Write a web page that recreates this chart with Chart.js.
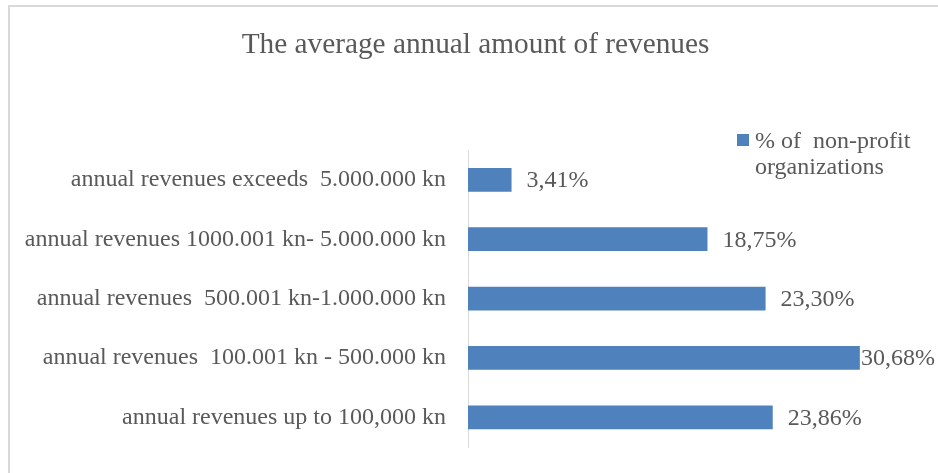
<!DOCTYPE html>
<html>
<head>
<meta charset="utf-8">
<script src="https://cdn.jsdelivr.net/npm/chart.js@4/dist/chart.umd.min.js"></script>
<style>
  html, body { margin: 0; padding: 0; background: #fff; }
  #wrap { position: relative; width: 938px; height: 473px; overflow: hidden; }
  #frame {
    position: absolute; left: 8px; top: 5px; right: 0; bottom: 0;
    border-top: 2px solid #d9d9d9; border-left: 2px solid #d9d9d9;
  }
  #revenueChart { position: absolute; left: 0; top: 0; }
</style>
</head>
<body>
<div id="wrap">
  <div id="frame"></div>
  <canvas id="revenueChart" width="938" height="473"></canvas>
</div>
<script>
// categories, top to bottom as shown
const categories = [
    'annual revenues exceeds  5.000.000 kn',
    'annual revenues 1000.001 kn- 5.000.000 kn',
    'annual revenues  500.001 kn-1.000.000 kn',
    'annual revenues  100.001 kn - 500.000 kn',
    'annual revenues up to 100,000 kn'
];
const shareValues = [3.41, 18.75, 23.30, 30.68, 23.86];
const seriesName = '% of  non-profit organizations';
const chartTitle = 'The average annual amount of revenues';

const textColor = '#595959';
const barColor = '#4f81bd';
const fontFamily = '"Liberation Serif", "Times New Roman", serif';

// value labels right of each bar, decimal comma
const valueLabels = {
    id: 'valueLabels',
    afterDatasetsDraw(chart) {
        const ctx = chart.ctx;
        const meta = chart.getDatasetMeta(0);
        ctx.save();
        ctx.font = '24px ' + fontFamily;
        ctx.fillStyle = textColor;
        ctx.textBaseline = 'middle';
        ctx.textAlign = 'left';
        meta.data.forEach((bar, i) => {
            const text = shareValues[i].toFixed(2).replace('.', ',') + '%';
            const w = ctx.measureText(text).width;
            let x = bar.x + 15;
            if (x + w > chart.width - 3) x = chart.width - 3 - w;
            ctx.fillText(text, x, bar.y + 1);
        });
        ctx.restore();
    }
};

// legend at the top right, text wrapped on two lines
const wrappedLegend = {
    id: 'wrappedLegend',
    afterDraw(chart) {
        const ctx = chart.ctx;
        const ds = chart.data.datasets[0];
        ctx.save();
        ctx.font = '24px ' + fontFamily;
        ctx.fillStyle = ds.backgroundColor;
        ctx.fillRect(737, 134, 12, 12);
        ctx.fillStyle = textColor;
        ctx.textBaseline = 'middle';
        const words = ds.label.split(' ');
        const lines = [];
        let line = '';
        words.forEach(word => {
            const test = line ? line + ' ' + word : word;
            if (ctx.measureText(test).width > 170 && line) {
                lines.push(line);
                line = word;
            } else {
                line = test;
            }
        });
        lines.push(line);
        lines.forEach((l, i) => ctx.fillText(l, 755, 142 + i * 26));
        ctx.restore();
    }
};

new Chart(document.getElementById('revenueChart'), {
    type: 'bar',
    data: {
        labels: categories,
        datasets: [{
            label: seriesName,
            data: shareValues,
            backgroundColor: barColor,
            borderWidth: 0,
            categoryPercentage: 1,
            barPercentage: 0.4
        }]
    },
    options: {
        indexAxis: 'y',
        responsive: false,
        animation: false,
        layout: {
            padding: { top: 0, right: 0, bottom: 26, left: 13 }
        },
        plugins: {
            legend: { display: false },
            tooltip: { enabled: false },
            title: {
                display: true,
                text: chartTitle,
                color: textColor,
                font: { family: fontFamily, size: 29.3, weight: 'normal', lineHeight: 1.2 },
                padding: { top: 28, bottom: 87 }
            }
        },
        scales: {
            x: {
                display: false,
                min: 0,
                max: 36.8
            },
            y: {
                afterFit(scale) {
                    scale.width = 455;
                    // no extra room for half tick labels above/below
                    scale.paddingTop = 0;
                    scale.paddingBottom = 0;
                },
                grid: { display: false, drawTicks: false },
                border: { display: true, color: '#d9d9d9', width: 1 },
                ticks: {
                    color: textColor,
                    padding: 22,
                    font: { family: fontFamily, size: 24 }
                }
            }
        }
    },
    plugins: [valueLabels, wrappedLegend]
});
</script>
</body>
</html>
